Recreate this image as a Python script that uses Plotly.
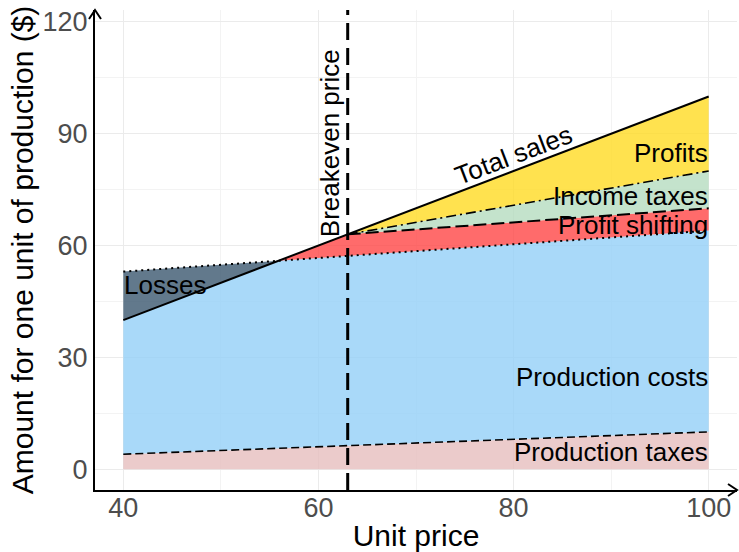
import plotly.graph_objects as go

# ---- data ----
price = [40, 100]
total_sales = [40, 100]
production_taxes = [4, 10]
total_costs = [53, 64]          # production taxes + production costs (dotted line)
breakeven_price = 63
price_after_be = [63, 100]
after_shifting = [63, 70]       # costs + profit shifting (long dashed line)
after_income_tax = [63, 80]     # + income taxes (dash-dot line)

x_range = [37.1, 102.9]
y_range = [-5.6, 123.2]

# intersection of total sales and total costs lines (geometry, derived from the lines above)
s_slope = (total_sales[1] - total_sales[0]) / (price[1] - price[0])
c_slope = (total_costs[1] - total_costs[0]) / (price[1] - price[0])
x_int = price[0] + (total_costs[0] - total_sales[0]) / (s_slope - c_slope)
y_int = total_sales[0] + s_slope * (x_int - price[0])

# semi-transparent fills (grid shows faintly through, as in the reference)
C_TAX = "rgba(230,190,190,0.8)"
C_COST = "rgba(148,208,248,0.8)"
C_LOSS = "rgba(59,88,111,0.8)"
C_SHIFT = "rgba(255,70,70,0.8)"
C_INC = "rgba(181,220,191,0.8)"
C_PROF = "rgba(255,219,35,0.8)"

fig = go.Figure()

# production taxes
fig.add_trace(go.Scatter(x=price, y=production_taxes, mode="lines", line=dict(width=0),
                         fill="tozeroy", fillcolor=C_TAX, hoverinfo="skip"))
# production costs (up to min(sales, costs))
fig.add_trace(go.Scatter(x=[price[0], x_int, price[1]], y=[total_sales[0], y_int, total_costs[1]],
                         mode="lines", line=dict(width=0), fill="tonexty", fillcolor=C_COST,
                         hoverinfo="skip"))
# losses
fig.add_trace(go.Scatter(x=[price[0], x_int, price[0], price[0]],
                         y=[total_sales[0], y_int, total_costs[0], total_sales[0]],
                         mode="lines", line=dict(width=0), fill="toself", fillcolor=C_LOSS,
                         hoverinfo="skip"))
# profit shifting
fig.add_trace(go.Scatter(x=[x_int, price_after_be[0], price_after_be[1], price[1], x_int],
                         y=[y_int, after_shifting[0], after_shifting[1], total_costs[1], y_int],
                         mode="lines", line=dict(width=0), fill="toself", fillcolor=C_SHIFT,
                         hoverinfo="skip"))
# income taxes
fig.add_trace(go.Scatter(x=[price_after_be[0], price_after_be[1], price_after_be[1], price_after_be[0]],
                         y=[after_shifting[0], after_income_tax[1], after_shifting[1], after_shifting[0]],
                         mode="lines", line=dict(width=0), fill="toself", fillcolor=C_INC,
                         hoverinfo="skip"))
# profits
fig.add_trace(go.Scatter(x=[price_after_be[0], price[1], price_after_be[1], price_after_be[0]],
                         y=[after_income_tax[0], total_sales[1], after_income_tax[1], after_income_tax[0]],
                         mode="lines", line=dict(width=0), fill="toself", fillcolor=C_PROF,
                         hoverinfo="skip"))

# lines
fig.add_trace(go.Scatter(x=price, y=production_taxes, mode="lines",
                         line=dict(color="black", width=1.6, dash="8px,4px")))
fig.add_trace(go.Scatter(x=price, y=total_costs, mode="lines",
                         line=dict(color="black", width=2, dash="2px,4px")))
fig.add_trace(go.Scatter(x=price_after_be, y=after_shifting, mode="lines",
                         line=dict(color="black", width=2, dash="13px,5px")))
fig.add_trace(go.Scatter(x=price_after_be, y=after_income_tax, mode="lines",
                         line=dict(color="black", width=1.6, dash="10px,4px,2px,4px")))
fig.add_trace(go.Scatter(x=price, y=total_sales, mode="lines",
                         line=dict(color="black", width=2)))

fig.add_vline(x=breakeven_price, line=dict(color="black", width=3, dash="17px,8px"))

FONT = "Liberation Sans, Arial, sans-serif"
ann_font = dict(family=FONT, size=26, color="black")
anns = [
    dict(x=80, y=84.3, text="Total sales", textangle=-20.8, xanchor="center", yanchor="middle"),
    dict(x=100, y=84.8, text="Profits", xanchor="right", yanchor="middle"),
    dict(x=100, y=73.3, text="Income taxes", xanchor="right", yanchor="middle"),
    dict(x=100, y=65.5, text="Profit shifting", xanchor="right", yanchor="middle"),
    dict(x=100, y=24.7, text="Production costs", xanchor="right", yanchor="middle"),
    dict(x=100, y=4.7, text="Production taxes", xanchor="right", yanchor="middle"),
    dict(x=40, y=49.4, text="Losses", xanchor="left", yanchor="middle"),
    dict(x=61.2, y=87.5, text="Breakeven price", textangle=-90, xanchor="center", yanchor="middle"),
]
for a in anns:
    fig.add_annotation(**a, showarrow=False, font=ann_font, borderpad=0)

# axis arrowheads
fig.add_shape(type="path", xref="paper", yref="paper", xsizemode="pixel", ysizemode="pixel",
              xanchor=1, yanchor=0, path="M -9,6 L 0,0 L -9,-6", line=dict(color="black", width=2))
fig.add_shape(type="path", xref="paper", yref="paper", xsizemode="pixel", ysizemode="pixel",
              xanchor=0, yanchor=1, path="M -6,-9 L 0,0 L 6,-9", line=dict(color="black", width=2))

axis_common = dict(
    showgrid=True, gridcolor="#EBEBEB", gridwidth=1.2, automargin=False,
    showline=True, linecolor="black", linewidth=2, zeroline=False, ticks="",
    ticklabeloverflow="allow",
    tickfont=dict(family=FONT, size=27, color="#4D4D4D"),
)
fig.update_xaxes(range=x_range, tickvals=[40, 60, 80, 100], ticklabelstandoff=-7,
                 minor=dict(tickvals=[50, 70, 90], showgrid=True, gridcolor="#F3F3F3", gridwidth=0.8),
                 title=dict(text="Unit price", font=dict(family=FONT, size=30, color="black"), standoff=7),
                 **axis_common)
fig.update_yaxes(range=y_range, tickvals=[0, 30, 60, 90, 120],
                 minor=dict(tickvals=[15, 45, 75, 105], showgrid=True, gridcolor="#F3F3F3", gridwidth=0.8),
                 title=dict(text="Amount for one unit of production ($)",
                            font=dict(family=FONT, size=30, color="black"), standoff=0),
                 **axis_common)

fig.update_layout(width=739, height=552,
                  margin=dict(l=95, r=2, t=10, b=62),
                  plot_bgcolor="white", paper_bgcolor="white", showlegend=False,
                  font=dict(family=FONT))

# remove the page's default 8px body margin so the figure fills the window exactly
fig.write_html("out.html", config={"displayModeBar": False},
               post_script="document.body.style.margin='0';document.body.style.overflow='hidden';")
